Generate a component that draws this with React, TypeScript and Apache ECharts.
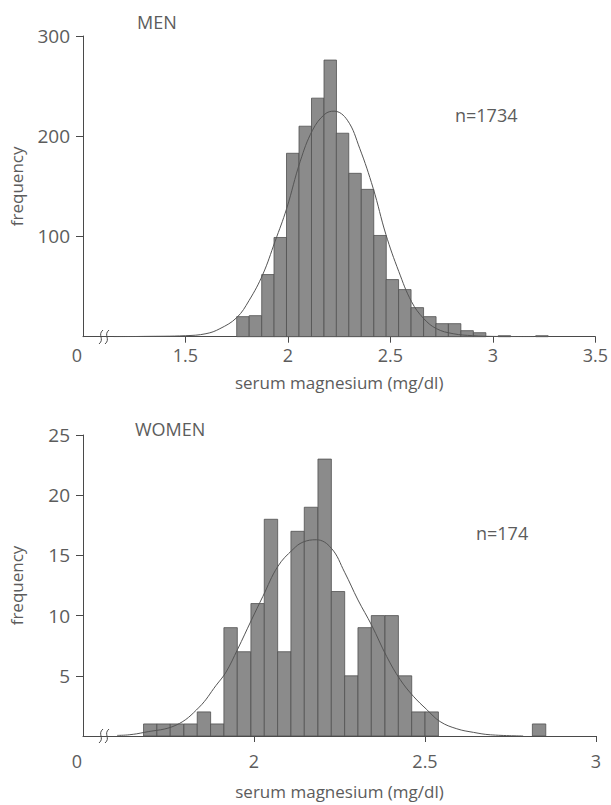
import React, { useEffect, useRef } from "react";
import * as echarts from "echarts";

// ---- MEN (n=1734) ----
const menBinStarts = [1.750, 1.811, 1.872, 1.932, 1.993, 2.054, 2.115, 2.176, 2.236, 2.297, 2.358, 2.419, 2.479, 2.540, 2.601, 2.662, 2.722, 2.783, 2.844, 2.905, 2.966, 3.026, 3.087, 3.148, 3.209];
const menBinWidth = 0.0608;
const menCounts = [20, 21, 62, 99, 183, 210, 238, 276, 203, 163, 147, 101, 57, 47, 29, 20, 13, 13, 6, 4, 0, 1, 0, 0, 1];
const menCurveX = [1.15, 1.30, 1.50, 1.60, 1.668, 1.75, 1.81, 1.877, 1.937, 1.994, 2.06, 2.12, 2.18, 2.225, 2.29, 2.35, 2.416, 2.478, 2.541, 2.603, 2.663, 2.725, 2.806, 2.902, 3.0, 3.2];
const menCurveY = [0, 0.3, 1, 3, 8, 19, 36, 62, 95, 128, 175, 206, 222, 225, 216, 188, 148, 102, 65, 35, 18, 8, 3, 1, 0.3, 0];
const menXTicks = [1.5, 2, 2.5, 3, 3.5];
const menYTicks = [100, 200, 300];

// ---- WOMEN (n=174) ----
const womenBinStarts = [1.677, 1.716, 1.755, 1.795, 1.834, 1.873, 1.912, 1.951, 1.991, 2.030, 2.069, 2.108, 2.147, 2.187, 2.226, 2.265, 2.304, 2.343, 2.383, 2.422, 2.461, 2.500, 2.814];
const womenBinWidth = 0.0392;
const womenCounts = [1, 1, 1, 1, 2, 1, 9, 7, 11, 18, 7, 17, 19, 23, 12, 5, 9, 10, 10, 5, 2, 2, 1];
const womenCurveX = [1.60, 1.635, 1.679, 1.772, 1.840, 1.889, 1.918, 1.952, 1.992, 2.026, 2.070, 2.114, 2.143, 2.182, 2.226, 2.265, 2.304, 2.344, 2.388, 2.427, 2.466, 2.505, 2.544, 2.593, 2.642, 2.691, 2.787];
const womenCurveY = [0.05, 0.1, 0.3, 0.9, 2.4, 4.2, 5.3, 7.2, 9.6, 11.6, 14.1, 15.5, 16.1, 16.3, 15.6, 13.6, 11.3, 9.2, 6.6, 4.7, 3.3, 2.2, 1.2, 0.6, 0.3, 0.1, 0];
const womenXTicks = [2, 2.5, 3];
const womenYTicks = [5, 10, 15, 20, 25];

const FONT = "'Open Sans', Lato, sans-serif";
const TXT = "#5c5c5c";
const AX = "#4a4a4a";

function binData(starts: number[], width: number, counts: number[]) {
  return starts
    .map((s, i) => [s, s + width, counts[i]])
    .filter((d) => d[2] > 0);
}

function renderBar(params: any, api: any) {
  const x0 = api.value(0);
  const x1 = api.value(1);
  const y = api.value(2);
  const p0 = api.coord([x0, y]);
  const p1 = api.coord([x1, 0]);
  return {
    type: "rect",
    shape: { x: p0[0], y: p0[1], width: p1[0] - p0[0], height: p1[1] - p0[1] },
    style: { fill: "#8b8b8b", stroke: "#505050", lineWidth: 0.8 },
  };
}

function xAxisCfg(grid: number, min: number, max: number, ticks: number[], nameGap: number, margin: number) {
  return {
    type: "value",
    gridIndex: grid,
    min,
    max,
    interval: 0.5,
    name: "serum magnesium (mg/dl)",
    nameLocation: "middle",
    nameGap,
    nameTextStyle: { fontFamily: FONT, fontSize: 17, color: TXT },
    axisLine: { show: true, lineStyle: { color: AX, width: 1 } },
    axisTick: { show: true, length: 6, customValues: ticks, lineStyle: { color: AX } },
    axisLabel: {
      customValues: [min, ...ticks],
      formatter: (v: number) => (v === min ? "{z|0}" : String(v)),
      fontFamily: FONT,
      fontSize: 18,
      color: TXT,
      margin,
      rich: { z: { fontFamily: FONT, fontSize: 18, color: TXT, padding: [0, 12, 0, 0] } },
    },
    splitLine: { show: false },
  };
}

function yAxisCfg(grid: number, max: number, interval: number, ticks: number[]) {
  return {
    type: "value",
    gridIndex: grid,
    min: 0,
    max,
    interval,
    name: "frequency",
    nameLocation: "middle",
    nameGap: 58,
    nameTextStyle: { fontFamily: FONT, fontSize: 17, color: TXT },
    axisLine: { show: true, lineStyle: { color: AX, width: 1 } },
    axisTick: { show: true, length: 7, customValues: ticks, lineStyle: { color: AX } },
    axisLabel: {
      customValues: ticks,
      fontFamily: FONT,
      fontSize: 19,
      color: TXT,
      margin: 13,
    },
    splitLine: { show: false },
  };
}

function breakMark(x: number, y: number) {
  return {
    type: "bezierCurve",
    shape: { x1: x - 2, y1: y + 7, x2: x + 2, y2: y - 7, cpx1: x + 4, cpy1: y + 2, cpx2: x - 4, cpy2: y - 2 },
    style: { stroke: AX, lineWidth: 1, fill: null },
  };
}

export default function App() {
  const ref = useRef<HTMLDivElement>(null);
  useEffect(() => {
    if (!ref.current) return;
    const chart = echarts.init(ref.current, undefined, { renderer: "svg" });
    const option: any = {
      animation: false,
      backgroundColor: "#ffffff",
      grid: [
        { left: 83, top: 36, width: 512.5, height: 300.7 },
        { left: 83, top: 435, width: 513, height: 301 },
      ],
      xAxis: [xAxisCfg(0, 1, 3.5, menXTicks, 37, 9), xAxisCfg(1, 1.5, 3, womenXTicks, 47, 16)],
      yAxis: [yAxisCfg(0, 300, 100, menYTicks), yAxisCfg(1, 25, 5, womenYTicks)],
      series: [
        {
          type: "custom",
          xAxisIndex: 0,
          yAxisIndex: 0,
          renderItem: renderBar,
          encode: { x: [0, 1], y: 2 },
          data: binData(menBinStarts, menBinWidth, menCounts),
        },
        {
          type: "line",
          xAxisIndex: 0,
          yAxisIndex: 0,
          smooth: 0.4,
          showSymbol: false,
          lineStyle: { color: "#555", width: 1 },
          data: menCurveX.map((x, i) => [x, menCurveY[i]]),
          z: 5,
        },
        {
          type: "custom",
          xAxisIndex: 1,
          yAxisIndex: 1,
          renderItem: renderBar,
          encode: { x: [0, 1], y: 2 },
          data: binData(womenBinStarts, womenBinWidth, womenCounts),
        },
        {
          type: "line",
          xAxisIndex: 1,
          yAxisIndex: 1,
          smooth: 0.4,
          showSymbol: false,
          lineStyle: { color: "#555", width: 1 },
          data: womenCurveX.map((x, i) => [x, womenCurveY[i]]),
          z: 5,
        },
      ],
      graphic: [
        { type: "text", left: 137, top: 13, style: { text: "MEN", fontFamily: FONT, fontSize: 18, fill: TXT } },
        { type: "text", left: 455, top: 106, style: { text: "n=1734", fontFamily: FONT, fontSize: 18, fill: TXT } },
        { type: "text", left: 135, top: 420, style: { text: "WOMEN", fontFamily: FONT, fontSize: 18, fill: TXT } },
        { type: "text", left: 476, top: 524, style: { text: "n=174", fontFamily: FONT, fontSize: 18, fill: TXT } },
        breakMark(101, 337),
        breakMark(107, 337),
        breakMark(101, 736),
        breakMark(107, 736),
      ],
    };
    chart.setOption(option);
    return () => chart.dispose();
  }, []);
  return <div ref={ref} style={{ position: "absolute", left: 0, top: 0, width: 611, height: 805 }} />;
}
